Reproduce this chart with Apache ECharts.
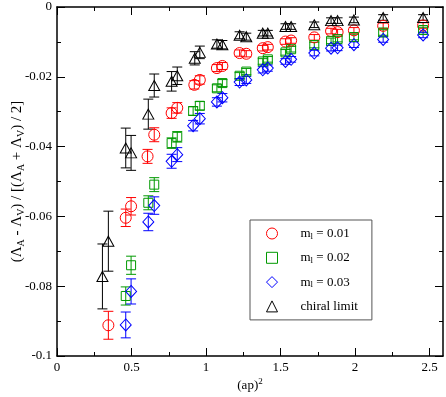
<!DOCTYPE html>
<html>
<head>
<meta charset="utf-8">
<script src="https://cdn.jsdelivr.net/npm/echarts@6/dist/echarts.min.js"></script>
<style>html,body{margin:0;padding:0;background:#fff}#c{width:446px;height:397px}</style>
</head>
<body>
<div id="c"></div>
<script>
// [ (ap)^2, value, error ]
const m001 = [
  [0.346,-0.0912,0.0040],[0.463,-0.0604,0.0025],[0.499,-0.0571,0.0025],
  [0.610,-0.0428,0.0020],[0.655,-0.0366,0.0020],[0.772,-0.0304,0.0015],
  [0.810,-0.0289,0.0015],[0.925,-0.0223,0.0012],[0.962,-0.0209,0.0012],
  [1.077,-0.0175,0.0010],[1.114,-0.0169,0.0010],[1.230,-0.0132,0.0009],
  [1.275,-0.0134,0.0009],[1.386,-0.0118,0.0008],[1.420,-0.0115,0.0008],
  [1.539,-0.0099,0.0008],[1.577,-0.0096,0.0008],[1.733,-0.0087,0.0008],
  [1.846,-0.0069,0.0008],[1.890,-0.0072,0.0008],[2.000,-0.0067,0.0008],
  [2.197,-0.0054,0.0008],[2.466,-0.0053,0.0008]
];
const m002 = [
  [0.463,-0.0828,0.0026],[0.499,-0.0740,0.0026],[0.615,-0.0561,0.0020],
  [0.655,-0.0509,0.0020],[0.772,-0.0390,0.0015],[0.810,-0.0372,0.0015],
  [0.917,-0.0298,0.0012],[0.962,-0.0283,0.0012],[1.077,-0.0233,0.0010],
  [1.114,-0.0218,0.0010],[1.230,-0.0197,0.0009],[1.275,-0.0185,0.0009],
  [1.386,-0.0156,0.0008],[1.420,-0.0150,0.0008],[1.539,-0.0130,0.0008],
  [1.577,-0.0121,0.0008],[1.733,-0.0109,0.0008],[1.846,-0.0097,0.0008],
  [1.890,-0.0092,0.0008],[2.000,-0.0086,0.0008],[2.197,-0.0073,0.0008],
  [2.466,-0.0066,0.0008]
];
const m003 = [
  [0.463,-0.0911,0.0037],[0.499,-0.0815,0.0036],[0.615,-0.0616,0.0025],
  [0.655,-0.0569,0.0025],[0.772,-0.0442,0.0020],[0.810,-0.0423,0.0020],
  [0.917,-0.0340,0.0015],[0.962,-0.0320,0.0015],[1.077,-0.0272,0.0012],
  [1.114,-0.0260,0.0012],[1.230,-0.0215,0.0010],[1.275,-0.0209,0.0010],
  [1.386,-0.0180,0.0009],[1.420,-0.0175,0.0009],[1.539,-0.0156,0.0008],
  [1.577,-0.0150,0.0008],[1.733,-0.0132,0.0008],[1.846,-0.0118,0.0008],
  [1.890,-0.0117,0.0008],[2.000,-0.0108,0.0008],[2.197,-0.0093,0.0008],
  [2.466,-0.0080,0.0008]
];
const chiral = [
  [0.306,-0.0772,0.0093],[0.346,-0.0671,0.0086],[0.463,-0.0404,0.0057],
  [0.499,-0.0418,0.0050],[0.615,-0.0307,0.0043],[0.655,-0.0225,0.0033],
  [0.772,-0.0213,0.0028],[0.810,-0.0197,0.0025],[0.928,-0.0147,0.0019],
  [0.962,-0.0130,0.0018],[1.077,-0.0106,0.0012],[1.114,-0.0108,0.0012],
  [1.230,-0.0081,0.0010],[1.275,-0.0085,0.0010],[1.386,-0.0075,0.0008],
  [1.420,-0.0075,0.0008],[1.539,-0.0056,0.0008],[1.577,-0.0056,0.0008],
  [1.733,-0.0051,0.0008],[1.846,-0.0039,0.0008],[1.890,-0.0039,0.0008],
  [2.000,-0.0037,0.0008],[2.197,-0.0030,0.0008],[2.466,-0.0030,0.0008]
];
const seriesNames = ['m_l = 0.01','m_l = 0.02','m_l = 0.03','chiral limit'];
const xTickLabels = ['0','0.5','1','1.5','2','2.5'];
const yTickLabels = ['-0.1','-0.08','-0.06','-0.04','-0.02','0'];

const FONT = 'Liberation Serif';
const colors = ['#ff0000','#009900','#0000ff','#000000'];
const symbols = ['circle','rect','diamond','triangle'];
const sizes = [11, 9, [11,12], [11,10]];
const sets = [m001, m002, m003, chiral];

const chart = echarts.init(document.getElementById('c'), null, {renderer:'canvas'});

function errSeries(data, color, name) {
  return {
    type: 'custom', name: name + '_err', xAxisIndex: 0, yAxisIndex: 0, silent: true, z: 2,
    data: data.map(d => [d[0], d[1] - d[2], d[1] + d[2]]),
    encode: {x: 0, y: [1, 2]},
    renderItem: function (params, api) {
      const x = api.value(0);
      const lo = api.coord([x, api.value(1)]);
      const hi = api.coord([x, api.value(2)]);
      const w = 5;
      const st = {stroke: color, lineWidth: 1};
      return {type: 'group', children: [
        {type: 'line', shape: {x1: lo[0], y1: lo[1], x2: hi[0], y2: hi[1]}, style: st},
        {type: 'line', shape: {x1: lo[0]-w, y1: lo[1], x2: lo[0]+w, y2: lo[1]}, style: st},
        {type: 'line', shape: {x1: hi[0]-w, y1: hi[1], x2: hi[0]+w, y2: hi[1]}, style: st}
      ]};
    }
  };
}

const series = [];
sets.forEach((d, i) => {
  series.push(errSeries(d, colors[i], seriesNames[i]));
  series.push({
    type: 'scatter', name: seriesNames[i], xAxisIndex: 0, yAxisIndex: 0, z: 3,
    symbol: symbols[i], symbolSize: sizes[i],
    data: d.map(p => [p[0], p[1]]),
    itemStyle: {color: 'rgba(0,0,0,0)', borderColor: colors[i], borderWidth: 1, opacity: 1},
    emphasis: {disabled: true}
  });
});

const lineStyle = {color: '#000', width: 1.5};
const yLabelMap = {};
[-0.1,-0.08,-0.06,-0.04,-0.02,0].forEach((v,i)=>{ yLabelMap[v.toFixed(2)] = yTickLabels[i]; });
const xLabelMap = {};
[0,0.5,1,1.5,2,2.5].forEach((v,i)=>{ xLabelMap[v.toFixed(2)] = xTickLabels[i]; });

const option = {
  animation: false,
  backgroundColor: '#fff',
  grid: [
    {left: 57, top: 7, right: 3, bottom: 41, containLabel: false, outerBoundsMode: 'none'},
    {left: 57, top: 7, width: 372.5, bottom: 41, containLabel: false, outerBoundsMode: 'none'}
  ],
  xAxis: [
    {gridIndex: 0, type: 'value', position: 'bottom', min: 0, max: 2.6,
     axisLine: {show: true, onZero: false, lineStyle: lineStyle}, axisTick: {show: false},
     axisLabel: {show: false}, splitLine: {show: false},
     name: '(ap){sup|2}', nameLocation: 'middle', nameGap: 21, nameMoveOverlap: false,
     nameTextStyle: {fontFamily: FONT, fontSize: 13, color: '#000',
       rich: {sup: {fontFamily: FONT, fontSize: 9, color: '#000', padding: [0,0,9,0]}}}},
    {gridIndex: 0, type: 'value', position: 'top', min: 0, max: 2.6,
     axisLine: {show: true, onZero: false, lineStyle: lineStyle}, axisTick: {show: false},
     axisLabel: {show: false}, splitLine: {show: false}},
    {gridIndex: 1, type: 'value', position: 'bottom', min: 0, max: 2.5, interval: 0.5,
     axisLine: {show: false, onZero: false},
     axisTick: {show: true, inside: true, length: 8, lineStyle: {color: '#000', width: 1}},
     minorTick: {show: true, splitNumber: 2, length: 4, lineStyle: {color: '#000', width: 1}},
     axisLabel: {show: true, margin: 5, fontFamily: FONT, fontSize: 13, color: '#000',
       formatter: v => xLabelMap[v.toFixed(2)] ?? ''},
     splitLine: {show: false}},
    {gridIndex: 1, type: 'value', position: 'top', min: 0, max: 2.5, interval: 0.5,
     axisLine: {show: false, onZero: false},
     axisTick: {show: true, inside: true, length: 8, lineStyle: {color: '#000', width: 1}},
     minorTick: {show: true, splitNumber: 2, length: 4, lineStyle: {color: '#000', width: 1}},
     axisLabel: {show: false}, splitLine: {show: false}}
  ],
  yAxis: [
    {gridIndex: 0, type: 'value', position: 'left', min: -0.1, max: 0, interval: 0.02,
     axisLine: {show: true, onZero: false, lineStyle: lineStyle},
     axisTick: {show: true, inside: true, length: 8, lineStyle: {color: '#000', width: 1}},
     minorTick: {show: true, splitNumber: 2, length: 4, lineStyle: {color: '#000', width: 1}},
     axisLabel: {show: true, margin: 5, fontFamily: FONT, fontSize: 13, color: '#000',
       formatter: v => yLabelMap[v.toFixed(2)] ?? ''},
     splitLine: {show: false},
     name: '(Λ{sub|A} - Λ{sub|V}) / [(Λ{sub|A} + Λ{sub|V}) / 2]',
     nameLocation: 'middle', nameRotate: 90, nameGap: 31, nameMoveOverlap: false,
     nameTextStyle: {fontFamily: FONT, fontSize: 15, color: '#000',
       rich: {sub: {fontFamily: FONT, fontSize: 10, color: '#000', padding: [7,0,0,0]}}}},
    {gridIndex: 0, type: 'value', position: 'right', min: -0.1, max: 0, interval: 0.02,
     axisLine: {show: true, onZero: false, lineStyle: lineStyle},
     axisTick: {show: true, inside: true, length: 8, lineStyle: {color: '#000', width: 1}},
     minorTick: {show: true, splitNumber: 2, length: 4, lineStyle: {color: '#000', width: 1}},
     axisLabel: {show: false}, splitLine: {show: false}},
    {gridIndex: 1, type: 'value', show: false, min: -0.1, max: 0}
  ],
  legend: {
    show: true, orient: 'vertical', left: 250, top: 220,
    itemWidth: 11, itemHeight: 11, itemGap: 10.3,
    padding: [7, 14, 7, 16], borderColor: '#555', borderWidth: 1, backgroundColor: '#fff',
    selectedMode: false,
    formatter: function (name) {
      if (name.indexOf('m_l') === 0) return 'm{sub|l}' + name.slice(3);
      return name;
    },
    textStyle: {fontFamily: FONT, fontSize: 13, color: '#000', padding: [0,0,0,18],
      rich: {sub: {fontFamily: FONT, fontSize: 9, color: '#000', padding: [6,0,0,0]}}},
    data: seriesNames.map((n, i) => ({
      name: n, icon: symbols[i],
      itemStyle: {color: 'rgba(0,0,0,0)', borderColor: colors[i], borderWidth: 1}
    }))
  },
  series: series
};
chart.setOption(option);
</script>
</body>
</html>
